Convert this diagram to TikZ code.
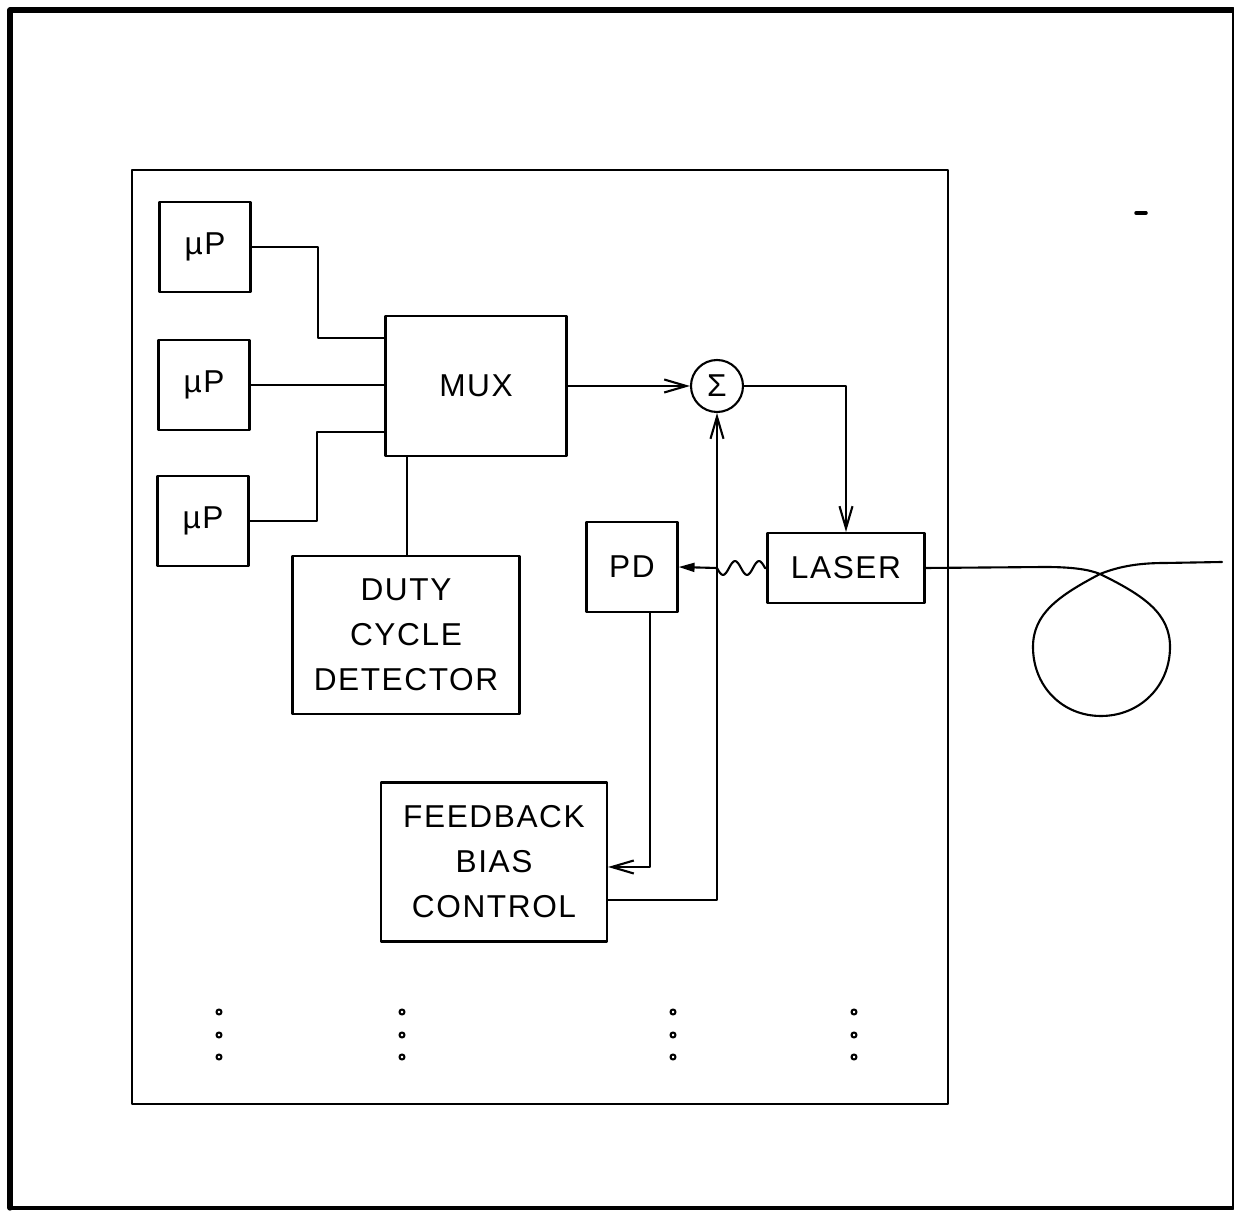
\documentclass[tikz,border=0pt]{standalone}
\usepackage{fontspec}
\setmainfont{Liberation Sans}[LetterSpace=5]
\usepackage{tikz}
\usetikzlibrary{arrows.meta,calc,positioning}
\tikzset{
  blk/.style={draw, inner sep=0pt, align=center, font=\fontsize{9}{12.8}\selectfont},
  upbox/.style={blk, minimum width=9.1mm, minimum height=9.0mm},
  sumnode/.style={circle, draw, minimum size=5.2mm, inner sep=0pt, font=\fontsize{9}{10}\selectfont},
  barb/.style={-{Straight Barb[length=2.2mm,width=1.3mm]}},
  every picture/.style={line cap=round, line join=round, line width=0.6pt}
}
\begin{document}
\begin{tikzpicture}[x=0.1mm, y=-0.1mm]
  \useasboundingbox (0,0) rectangle (1234,1212);
  % frame
  \draw[line width=1.5pt] (1233,10) -- (10,10) -- (10,1208);
  \draw[line width=0.9pt] (10,1208) -- (1233,1208);
  \draw[line width=0.3pt] (1233,1208) -- (1233,10);
  \draw (132,170) rectangle (948,1104);
  \draw[line width=1pt] (1136,213) -- (1146,213);

  % blocks
  \node[upbox] (up1) at (205,247) {µP};
  \node[upbox] (up2) at (204,385) {µP};
  \node[upbox] (up3) at (203,521) {µP};
  \node[blk, minimum width=18.1mm, minimum height=14.0mm] (mux) at (476,386) {MUX};
  \node[blk, minimum width=22.7mm, minimum height=15.8mm] (dcd) at (406,635) {DUTY\\CYCLE\\DETECTOR};
  \node[sumnode] (sum) at (717,386) {Σ};
  \node[blk, minimum width=15.7mm, minimum height=7.0mm] (laser) at (846,568) {LASER};
  \node[blk, minimum width=9.1mm, minimum height=9.0mm] (pd) at (632,567) {PD};
  \node[blk, minimum width=22.6mm, minimum height=15.9mm] (fbc) at (494,862) {FEEDBACK\\BIAS\\CONTROL};

  % inputs to MUX
  \coordinate (j1) at (318,338);
  \coordinate (j3) at (317,432);
  \draw (up1.east) -| (j1) -- (j1 -| mux.west);
  \draw (up2.east) -- (up2.east -| mux.west);
  \draw (up3.east) -| (j3) -- (j3 -| mux.west);
  \draw (mux.south -| 407,0) -- (dcd.north -| 407,0);

  % signal path
  \draw[barb] (mux.east) -- (sum.west);
  \draw[barb] (sum.east) -| (laser.north);
  \draw[-{Triangle[length=1.6mm,width=0.9mm]}] (laser.west) -- (765,568)
    sin (759,561) cos (753,568) sin (747,575) cos (741,568)
    sin (735,561) cos (729,568) sin (723,575) cos (717,568) -- (pd.east);
  \draw[barb] ($(pd.south)+(18,0)$) |- ($(fbc.east)+(0,5)$);
  \draw[barb] ($(fbc.east)+(0,38)$) -| (sum.south);

  % fibre loop
  \coordinate (cross) at (1100,574);
  \draw (laser.east) -- (1045,567) .. controls (1075,567) and (1090,570) .. (cross)
    .. controls (1145,596) and (1170,614) .. (1170,647)
    .. controls (1170,686) and (1140,716) .. (1101,716)
    .. controls (1062,716) and (1033,686) .. (1033,647)
    .. controls (1033,614) and (1058,596) .. (cross)
    .. controls (1120,566) and (1140,563) .. (1165,563) -- (1222,562);

  % further channels
  \foreach \cx in {219,402,673,854}
    \foreach \cy in {1012,1035,1057}
      \draw (\cx,\cy) circle[radius=0.25mm];
\end{tikzpicture}
\end{document}
